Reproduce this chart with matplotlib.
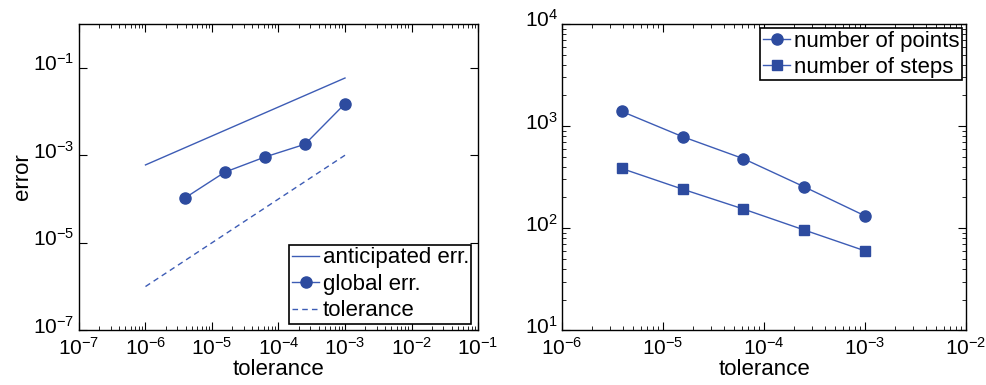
import numpy as np
import matplotlib
matplotlib.use('Agg')
import matplotlib.pyplot as plt
import matplotlib.transforms as mtransforms
from matplotlib.ticker import LogLocator, NullLocator

plt.rcParams['font.family'] = ['Liberation Sans', 'DejaVu Sans']
plt.rcParams['font.size'] = 16
plt.rcParams['mathtext.fontset'] = 'custom'
plt.rcParams['mathtext.rm'] = 'Liberation Sans'
plt.rcParams['mathtext.it'] = 'Liberation Sans'

# tolerances used in the runs
tol = [3.9e-6, 1.56e-5, 6.25e-5, 2.5e-4, 1e-3]

# left panel
global_err = [1.05e-4, 4.1e-4, 9.1e-4, 1.78e-3, 1.5e-2]
antic_tol = [1e-6, 1e-3]
antic_err = [6e-4, 5.8e-2]
tol_line_x = [1e-6, 1e-3]
tol_line_y = [1e-6, 1e-3]

# right panel
n_points = [1390, 787, 479, 254, 132]
n_steps = [384, 241, 154, 96, 60]

blue = '#2d4b9f'
line_blue = '#3d5cb5'

fig = plt.figure(figsize=(9.86, 3.85), dpi=100)
ax1 = fig.add_axes([0.0801, 0.142, 0.4047, 0.796])
ax2 = fig.add_axes([0.570, 0.142, 0.4097, 0.796])

ax1.loglog(antic_tol, antic_err, '-', color=line_blue, lw=1, label='anticipated err.')
ax1.loglog(tol, global_err, '-o', color=line_blue, mfc=blue, mec=blue, ms=8, lw=1,
           label='global err.')
ax1.loglog(tol_line_x, tol_line_y, '--', color=line_blue, lw=1, dashes=(4, 3),
           label='tolerance')
ax1.set_xlim(1e-7, 1e-1)
ax1.set_ylim(1e-7, 1e0)
ax1.set_xticks([10.0**k for k in range(-7, 0)])
ax1.set_yticks([10.0**k for k in (-7, -5, -3, -1)])
ax1.yaxis.set_minor_locator(NullLocator())
ax1.set_xlabel('tolerance', labelpad=0)
ax1.set_ylabel('error', labelpad=0)
leg1 = ax1.legend(loc='lower right', fancybox=False, edgecolor='black', framealpha=1,
                  handlelength=1.25, handletextpad=0.15, borderaxespad=0.3,
                  labelspacing=0.25, borderpad=0.1)

ax2.loglog(tol, n_points, '-o', color=line_blue, mfc=blue, mec=blue, ms=8, lw=1,
           label='number of points')
ax2.loglog(tol, n_steps, '-s', color=line_blue, mfc=blue, mec=blue, ms=7, lw=1,
           label='number of steps')
ax2.set_xlim(1e-6, 1e-2)
ax2.set_ylim(1e1, 1e4)
ax2.set_xlabel('tolerance', labelpad=0)
leg2 = ax2.legend(loc='upper right', fancybox=False, edgecolor='black', framealpha=1,
                  handlelength=1.25, handletextpad=0.15, borderaxespad=0.2,
                  labelspacing=0.25, borderpad=0.1)

for ax in (ax1, ax2):
    ax.xaxis.set_minor_locator(LogLocator(base=10, subs=np.arange(2, 10), numticks=20))
    ax.tick_params(which='both', direction='in', top=True, right=True, labelsize=15)
    ax.tick_params(axis='x', pad=5)
    ax.tick_params(axis='y', pad=3)
    ax.tick_params(which='major', length=6, width=0.8)
    ax.tick_params(which='minor', length=3, width=0.6)
    for s in ax.spines.values():
        s.set_linewidth(1.0)
ax2.yaxis.set_minor_locator(LogLocator(base=10, subs=np.arange(2, 10), numticks=20))
for leg in (leg1, leg2):
    leg.get_frame().set_linewidth(1.2)

# nudge y tick labels up a little, as in the original
shift = mtransforms.ScaledTranslation(0, 4 / 72, fig.dpi_scale_trans)
for ax in (ax1, ax2):
    for lab in ax.get_yticklabels():
        lab.set_transform(lab.get_transform() + shift)

fig.savefig('out.png', dpi=100)
